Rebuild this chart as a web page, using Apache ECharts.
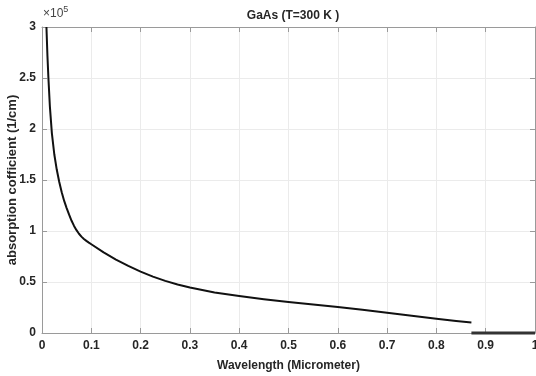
<!DOCTYPE html>
<html><head><meta charset="utf-8">
<script src="https://cdn.jsdelivr.net/npm/echarts@6/dist/echarts.min.js"></script>
<style>html,body{margin:0;padding:0;background:#fff}#c{width:536px;height:376px}</style>
</head><body><div id="c"></div>
<script>
// Wavelength (micrometer) and absorption coefficient (x1e5 1/cm)
const wavelength = [0.009, 0.011, 0.013, 0.016, 0.02, 0.025, 0.03, 0.035, 0.04, 0.045, 0.05, 0.055, 0.06, 0.065, 0.07, 0.075, 0.08, 0.085, 0.09, 0.095, 0.1, 0.125, 0.15, 0.175, 0.2, 0.225, 0.25, 0.275, 0.3, 0.35, 0.4, 0.45, 0.5, 0.55, 0.6, 0.65, 0.7, 0.75, 0.8, 0.84, 0.871];
const absorption = [3.0, 2.72, 2.5, 2.22, 1.96, 1.75, 1.6, 1.48, 1.38, 1.295, 1.225, 1.16, 1.1, 1.05, 1.008, 0.973, 0.945, 0.922, 0.903, 0.886, 0.87, 0.79, 0.72, 0.658, 0.602, 0.553, 0.511, 0.476, 0.446, 0.398, 0.362, 0.331, 0.304, 0.28, 0.255, 0.228, 0.199, 0.169, 0.139, 0.117, 0.102];
const zeroWavelength = [0.871, 1.0];
const zeroAbsorption = [0, 0];
const xTicks = [0, 0.1, 0.2, 0.3, 0.4, 0.5, 0.6, 0.7, 0.8, 0.9, 1];
const yTicks = [0, 0.5, 1, 1.5, 2, 2.5, 3];

const mainData = wavelength.map((w, i) => [w, absorption[i]]);
const zeroData = zeroWavelength.map((w, i) => [w, zeroAbsorption[i]]);

const font = 'Liberation Sans, Arial, sans-serif';
const axisCol = '#9a9a9a';
const textCol = '#262626';
const fmt = v => String(Math.round(v * 10) / 10);

const chart = echarts.init(document.getElementById('c'), null, {renderer: 'canvas'});
chart.setOption({
  animation: false,
  backgroundColor: '#fff',
  title: {
    text: 'GaAs (T=300 K )', left: 288, top: 5, textAlign: 'center',
    textStyle: {fontFamily: font, fontSize: 12, fontWeight: 'bold', color: textCol}
  },
  graphic: [{
    type: 'text', left: 43, top: 5,
    style: {
      text: '×10{s|5}', font: '12px ' + font, fill: '#444',
      rich: {s: {fontSize: 9, verticalAlign: 'top', padding: [0, 0, 8, 0], fontFamily: font, fill: '#444'}}
    }
  }],
  grid: {left: 42, right: 1, top: 27, bottom: 43, containLabel: false, outerBoundsMode: 'none'},
  xAxis: [{
    type: 'value', min: 0, max: 1, interval: 0.1,
    name: 'Wavelength (Micrometer)', nameLocation: 'middle', nameGap: 27, nameMoveOverlap: false,
    nameTextStyle: {fontFamily: font, fontSize: 12, fontWeight: 'bold', color: textCol},
    axisLine: {onZero: false, lineStyle: {color: axisCol, width: 1}},
    axisTick: {inside: true, length: 5, lineStyle: {color: axisCol}},
    axisLabel: {fontFamily: font, fontSize: 12, fontWeight: 'bold', color: textCol, margin: 7, formatter: fmt},
    splitLine: {show: true, lineStyle: {color: '#ebebeb', width: 1}}
  }, {
    type: 'value', min: 0, max: 1, interval: 0.1, position: 'top',
    axisLine: {onZero: false, lineStyle: {color: axisCol, width: 1}},
    axisTick: {inside: true, length: 5, lineStyle: {color: axisCol}},
    axisLabel: {show: false}, splitLine: {show: false}
  }],
  yAxis: [{
    type: 'value', min: 0, max: 3, interval: 0.5,
    name: 'absorption cofficient (1/cm)', nameLocation: 'middle', nameGap: 23, nameRotate: 90, nameMoveOverlap: false,
    nameTextStyle: {fontFamily: font, fontSize: 13, fontWeight: 'bold', color: textCol},
    axisLine: {show: true, onZero: false, lineStyle: {color: axisCol, width: 1}},
    axisTick: {show: true, inside: true, length: 5, lineStyle: {color: axisCol}},
    axisLabel: {fontFamily: font, fontSize: 12, fontWeight: 'bold', color: textCol, margin: 6, formatter: fmt},
    splitLine: {show: true, lineStyle: {color: '#ebebeb', width: 1}}
  }, {
    type: 'value', min: 0, max: 3, interval: 0.5, position: 'right',
    axisLine: {show: true, onZero: false, lineStyle: {color: axisCol, width: 1}},
    axisTick: {show: true, inside: true, length: 5, lineStyle: {color: axisCol}},
    axisLabel: {show: false}, splitLine: {show: false}
  }],
  series: [{
    type: 'line', data: mainData, showSymbol: false, smooth: false,
    lineStyle: {color: '#111', width: 2, join: 'round'}, clip: true
  }, {
    type: 'line', data: zeroData, showSymbol: false,
    lineStyle: {color: '#333', width: 3}, clip: false
  }]
});
</script></body></html>
